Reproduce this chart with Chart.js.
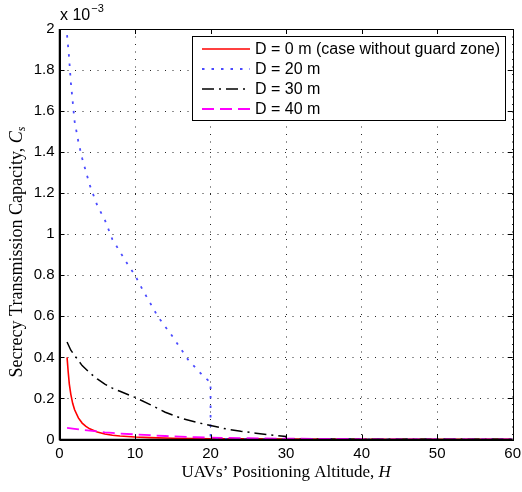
<!DOCTYPE html>
<html>
<head>
<meta charset="utf-8">
<script src="https://cdn.jsdelivr.net/npm/chart.js@4/dist/chart.umd.min.js"></script>
<style>
html,body{margin:0;padding:0;background:#fff;}
#wrap{width:522px;height:492px;position:relative;}
</style>
</head>
<body>
<div id="wrap"><canvas id="c" width="522" height="492"></canvas></div>
<script>
// ---- data (values in units of 1e-3) ----
const seriesNames = ['D = 0 m (case without guard zone)', 'D = 20 m', 'D = 30 m', 'D = 40 m'];

const hD0 = [1, 1.15, 1.3, 1.5, 1.75, 2, 2.5, 3, 3.5, 4, 5, 6, 7, 8, 10, 12, 15, 20, 25, 30, 40, 50, 60];
const cD0 = [0.40, 0.33, 0.27, 0.22, 0.175, 0.145, 0.105, 0.080, 0.064, 0.052, 0.037, 0.027, 0.021, 0.017, 0.012, 0.009, 0.006, 0.004, 0.003, 0.002, 0.0015, 0.001, 0.001];

const hD20 = [1, 1.25, 1.5, 2, 2.5, 3, 4, 5, 6, 7, 8, 9, 10, 11, 12, 13, 14, 15, 16, 17, 18, 19, 20, 20, 25, 30, 40, 50, 60];
const cD20 = [1.97, 1.87, 1.74, 1.55, 1.45, 1.37, 1.24, 1.14, 1.07, 0.975, 0.915, 0.855, 0.80, 0.73, 0.665, 0.60, 0.55, 0.50, 0.445, 0.39, 0.35, 0.31, 0.278, 0.004, 0.002, 0.002, 0.001, 0.001, 0.001];

const hD30 = [1, 1.5, 2, 3, 4, 5, 6, 7, 8, 10, 12, 14, 16, 18, 20, 22, 24, 26, 28, 30, 30, 40, 50, 60];
const cD30 = [0.475, 0.435, 0.41, 0.36, 0.325, 0.295, 0.27, 0.25, 0.235, 0.205, 0.17, 0.133, 0.105, 0.085, 0.068, 0.052, 0.040, 0.031, 0.022, 0.015, 0.002, 0.001, 0.001, 0.001];

const hD40 = [1, 2, 3, 4, 5, 6, 7, 8, 10, 12, 14, 16, 18, 20, 25, 30, 35, 40, 40, 50, 60];
const cD40 = [0.057, 0.052, 0.047, 0.043, 0.039, 0.035, 0.032, 0.029, 0.025, 0.021, 0.017, 0.014, 0.011, 0.009, 0.006, 0.004, 0.003, 0.002, 0.001, 0.001, 0.001];

const xTickValues = [0, 10, 20, 30, 40, 50, 60];
const xTickLabels = ['0', '10', '20', '30', '40', '50', '60'];
const yTickValues = [0, 0.2, 0.4, 0.6, 0.8, 1, 1.2, 1.4, 1.6, 1.8, 2];
const yTickLabels = ['0', '0.2', '0.4', '0.6', '0.8', '1', '1.2', '1.4', '1.6', '1.8', '2'];

const xTitle = 'UAVs\u2019 Positioning Altitude, ';
const xTitleVar = 'H';
const yTitle = 'Secrecy Transmission Capacity, ';
const yTitleVar = 'C';
const yTitleSub = 's';
const yExponent = ['x 10', '\u22123'];

// ---- styles ----
const colors = ['#ff0000', '#4a4aff', '#000000', '#ff00ff'];
const dashes = [[], [2.5, 7], [12, 5, 2, 5], [12, 6]];
const widths = [1.6, 1.8, 1.5, 1.8];

function pts(h, c) { return h.map((v, i) => ({ x: v, y: c[i] })); }
const seriesData = [pts(hD0, cD0), pts(hD20, cD20), pts(hD30, cD30), pts(hD40, cD40)];

const TICKFONT = '15px "Liberation Sans", Arial, sans-serif';
const LEGFONT = '16px "Liberation Sans", Arial, sans-serif';

const customPlugin = {
  id: 'custom',
  afterDatasetsDraw(chart) {
    const ctx = chart.ctx;
    const a = chart.chartArea;
    const xs = chart.scales.x, ys = chart.scales.y;
    ctx.save();
    // frame
    ctx.strokeStyle = '#000';
    ctx.lineWidth = 1;
    ctx.setLineDash([]);
    ctx.strokeRect(Math.round(a.left) + 0.5, Math.round(a.top) + 0.5, Math.round(a.right - a.left), Math.round(a.bottom - a.top));
    ctx.lineWidth = 1.5;
    ctx.beginPath();
    ctx.moveTo(a.left, a.top); ctx.lineTo(a.left, a.bottom); ctx.lineTo(a.right, a.bottom);
    ctx.stroke();
    // inward ticks
    ctx.lineWidth = 1;
    const tl = 5;
    ctx.beginPath();
    xTickValues.forEach(v => {
      const px = Math.round(xs.getPixelForValue(v)) + 0.5;
      ctx.moveTo(px, a.bottom); ctx.lineTo(px, a.bottom - tl);
      ctx.moveTo(px, a.top); ctx.lineTo(px, a.top + tl);
    });
    yTickValues.forEach(v => {
      const py = Math.round(ys.getPixelForValue(v)) + 0.5;
      ctx.moveTo(a.left, py); ctx.lineTo(a.left + tl, py);
      ctx.moveTo(a.right, py); ctx.lineTo(a.right - tl, py);
    });
    ctx.stroke();

    // legend
    const lx = 192, ly = 36, lw = 313, lh = 84;
    ctx.fillStyle = '#fff';
    ctx.fillRect(lx, ly, lw, lh);
    ctx.strokeStyle = '#000';
    ctx.lineWidth = 1;
    ctx.strokeRect(lx + 0.5, ly + 0.5, lw, lh);
    ctx.font = LEGFONT;
    ctx.textBaseline = 'middle';
    ctx.textAlign = 'left';
    seriesNames.forEach((name, i) => {
      const y = 49 + i * 20;
      ctx.strokeStyle = colors[i];
      ctx.lineWidth = widths[i];
      ctx.setLineDash(dashes[i]);
      ctx.beginPath();
      ctx.moveTo(202, y); ctx.lineTo(250, y);
      ctx.stroke();
      ctx.setLineDash([]);
      ctx.fillStyle = '#000';
      ctx.fillText(name, 255, y + 1);
    });

    // exponent label
    ctx.fillStyle = '#000';
    ctx.textBaseline = 'alphabetic';
    ctx.font = LEGFONT;
    ctx.fillText(yExponent[0], 60, 20);
    const ew = ctx.measureText(yExponent[0]).width;
    ctx.font = '11px "Liberation Sans", Arial, sans-serif';
    ctx.fillText(yExponent[1], 60 + ew + 1, 12);

    // x title
    const serif = '"Liberation Serif", "DejaVu Serif", serif';
    const xf = 17;
    ctx.font = xf + 'px ' + serif;
    const w1 = ctx.measureText(xTitle).width;
    ctx.font = 'italic ' + xf + 'px ' + serif;
    const w2 = ctx.measureText(xTitleVar).width;
    const cx = (a.left + a.right) / 2;
    let sx = cx - (w1 + w2) / 2;
    ctx.font = xf + 'px ' + serif;
    ctx.fillText(xTitle, sx, 477);
    ctx.font = 'italic ' + xf + 'px ' + serif;
    ctx.fillText(xTitleVar, sx + w1, 477);

    // y title (rotated)
    const yf = 18;
    ctx.save();
    ctx.translate(22, 252);
    ctx.rotate(-Math.PI / 2);
    ctx.font = yf + 'px ' + serif;
    const t1 = ctx.measureText(yTitle).width;
    ctx.font = 'italic ' + yf + 'px ' + serif;
    const t2 = ctx.measureText(yTitleVar).width;
    ctx.font = 'italic 12px ' + serif;
    const t3 = ctx.measureText(yTitleSub).width;
    let s = -(t1 + t2 + t3) / 2;
    ctx.font = yf + 'px ' + serif;
    ctx.fillText(yTitle, s, 0);
    ctx.font = 'italic ' + yf + 'px ' + serif;
    ctx.fillText(yTitleVar, s + t1, 0);
    ctx.font = 'italic 12px ' + serif;
    ctx.fillText(yTitleSub, s + t1 + t2, 3);
    ctx.restore();

    ctx.restore();
  }
};

new Chart(document.getElementById('c'), {
  type: 'line',
  data: {
    datasets: seriesData.map((d, i) => ({
      label: seriesNames[i],
      data: d,
      borderColor: colors[i],
      backgroundColor: colors[i],
      borderWidth: widths[i],
      borderDash: dashes[i],
      pointRadius: 0,
      fill: false,
      tension: 0,
      order: 4 - i
    }))
  },
  options: {
    responsive: false,
    animation: false,
    devicePixelRatio: 1,
    layout: { padding: { left: 0, right: 9.3, top: 29, bottom: 0 } },
    plugins: { legend: { display: false }, tooltip: { enabled: false } },
    scales: {
      x: {
        type: 'linear', min: 0, max: 60,
        afterFit(s) { s.height = 52.5; s.paddingLeft = 0; s.paddingRight = 0; },
        afterBuildTicks(s) { s.ticks = xTickValues.map(v => ({ value: v })); },
        ticks: {
          font: { family: '"Liberation Sans", Arial, sans-serif', size: 15 },
          color: '#000', padding: 5, maxRotation: 0, autoSkip: false,
          callback: (v, i) => xTickLabels[i]
        },
        grid: { color: 'rgba(0,0,0,0.85)', lineWidth: 1, drawTicks: false },
        border: { display: false, dash: [1, 6.5] }
      },
      y: {
        type: 'linear', min: 0, max: 2,
        afterFit(s) { s.width = 59.5; s.paddingTop = 0; s.paddingBottom = 0; },
        afterBuildTicks(s) { s.ticks = yTickValues.map(v => ({ value: v })); },
        ticks: {
          font: { family: '"Liberation Sans", Arial, sans-serif', size: 15 },
          color: '#000', padding: 5, autoSkip: false,
          callback: (v, i) => yTickLabels[i]
        },
        grid: { color: 'rgba(0,0,0,0.85)', lineWidth: 1, drawTicks: false },
        border: { display: false, dash: [1, 6.5] }
      }
    }
  },
  plugins: [customPlugin]
});
</script>
</body>
</html>
